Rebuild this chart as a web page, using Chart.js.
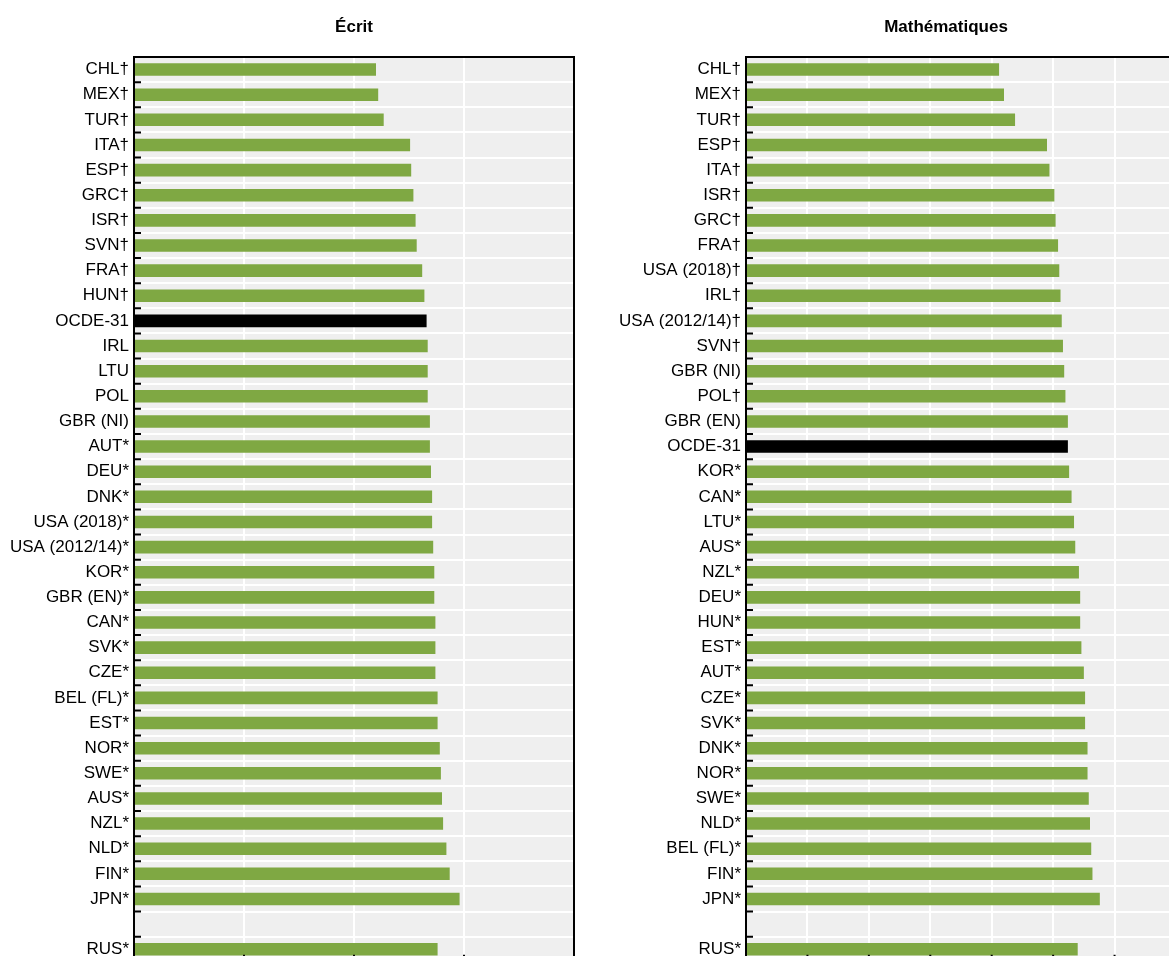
<!DOCTYPE html>
<html>
<head>
<meta charset="utf-8">
<script src="https://cdn.jsdelivr.net/npm/chart.js@4.4.1/dist/chart.umd.min.js"></script>
<style>
  html, body { margin: 0; padding: 0; background: #fff; overflow: hidden; width: 1169px; height: 956px; }
  .panel { position: absolute; top: 0; }
  #ecritWrap { left: 0; width: 580px; height: 977px; }
  #mathWrap { left: 590px; width: 592px; height: 977px; }
</style>
</head>
<body>
<div id="ecritWrap" class="panel"><canvas id="ecritChart"></canvas></div>
<div id="mathWrap" class="panel"><canvas id="mathChart"></canvas></div>
<script>
// Écrit (literacy) scores, blank row before RUS
var ecritLabels = ['CHL†', 'MEX†', 'TUR†', 'ITA†', 'ESP†', 'GRC†', 'ISR†', 'SVN†', 'FRA†', 'HUN†',
    'OCDE-31', 'IRL', 'LTU', 'POL', 'GBR (NI)', 'AUT*', 'DEU*', 'DNK*', 'USA (2018)*', 'USA (2012/14)*',
    'KOR*', 'GBR (EN)*', 'CAN*', 'SVK*', 'CZE*', 'BEL (FL)*', 'EST*', 'NOR*', 'SWE*', 'AUS*',
    'NZL*', 'NLD*', 'FIN*', 'JPN*', '', 'RUS*'];
var ecritValues = [220, 222, 227, 251, 252, 254, 256, 257, 262, 264,
    266, 267, 267, 267, 269, 269, 270, 271, 271, 272,
    273, 273, 274, 274, 274, 276, 276, 278, 279, 280,
    281, 284, 287, 296, null, 276];

// Mathématiques (numeracy) scores
var mathLabels = ['CHL†', 'MEX†', 'TUR†', 'ESP†', 'ITA†', 'ISR†', 'GRC†', 'FRA†', 'USA (2018)†', 'IRL†',
    'USA (2012/14)†', 'SVN†', 'GBR (NI)', 'POL†', 'GBR (EN)', 'OCDE-31', 'KOR*', 'CAN*', 'LTU*', 'AUS*',
    'NZL*', 'DEU*', 'HUN*', 'EST*', 'AUT*', 'CZE*', 'SVK*', 'DNK*', 'NOR*', 'SWE*',
    'NLD*', 'BEL (FL)*', 'FIN*', 'JPN*', '', 'RUS*'];
var mathValues = [206, 210, 219, 245, 247, 251, 252, 254, 255, 256,
    257, 258, 259, 260, 262, 262, 263, 265, 267, 268,
    271, 272, 272, 273, 275, 276, 276, 278, 278, 279,
    280, 281, 282, 288, null, 270];

var GREEN = '#7fa843';
var FONT = '"Liberation Sans Narrow", "Arial Narrow", "Liberation Sans", sans-serif';

// grey plot background, frame, inward ticks and panel title
var panelPlugin = {
    id: 'panel',
    beforeDraw: function(chart) {
        var a = chart.chartArea, ctx = chart.ctx;
        ctx.save();
        ctx.fillStyle = '#efefef';
        ctx.fillRect(a.left, a.top, a.right - a.left, a.bottom - a.top);
        ctx.restore();
    },
    afterDraw: function(chart, args, opts) {
        var a = chart.chartArea, ctx = chart.ctx;
        var x = chart.scales.x, y = chart.scales.y;
        ctx.save();
        ctx.strokeStyle = '#000';
        ctx.lineWidth = 2;
        ctx.beginPath();
        ctx.moveTo(a.left, a.bottom);
        ctx.lineTo(a.left, a.top);
        ctx.lineTo(a.right, a.top);
        ctx.lineTo(a.right, a.bottom);
        // ticks between categories on the left axis
        for (var i = 1; i < y.ticks.length; i++) {
            var yy = (y.getPixelForTick(i - 1) + y.getPixelForTick(i)) / 2;
            ctx.moveTo(a.left, yy);
            ctx.lineTo(a.left + 7, yy);
        }
        // ticks along the bottom axis
        for (var j = 1; j < x.ticks.length; j++) {
            var xx = x.getPixelForTick(j);
            ctx.moveTo(xx, a.bottom);
            ctx.lineTo(xx, a.bottom - 7);
        }
        ctx.stroke();
        ctx.fillStyle = '#000';
        ctx.font = 'bold 17px ' + FONT;
        ctx.textAlign = 'center';
        ctx.textBaseline = 'middle';
        ctx.fillText(opts.text, a.left + opts.dx + (a.right - a.left) / 2, 27);
        ctx.restore();
    }
};

function makePanel(id, labels, values, max, step, yWidth, title, dx) {
    var colors = labels.map(function(l) { return l === 'OCDE-31' ? '#000000' : GREEN; });
    return new Chart(document.getElementById(id).getContext('2d'), {
        type: 'bar',
        data: {
            labels: labels,
            datasets: [{
                data: values,
                backgroundColor: colors,
                borderWidth: 0,
                barPercentage: 0.5,
                categoryPercentage: 1
            }]
        },
        options: {
            indexAxis: 'y',
            responsive: true,
            maintainAspectRatio: false,
            animation: false,
            layout: { padding: { top: 57, right: 6, bottom: 2, left: 0 } },
            plugins: {
                legend: { display: false },
                tooltip: { enabled: false },
                panel: { text: title, dx: dx }
            },
            scales: {
                x: {
                    min: 0,
                    max: max,
                    ticks: { display: false, stepSize: step },
                    grid: { color: '#ffffff', lineWidth: 2, drawTicks: false },
                    border: { display: false }
                },
                y: {
                    afterFit: function(s) { s.width = yWidth; },
                    ticks: { color: '#000', padding: 5, autoSkip: false, font: { family: FONT, size: 17 } },
                    grid: { color: '#ffffff', lineWidth: 2, drawTicks: false, offset: true },
                    border: { display: false }
                }
            }
        },
        plugins: [panelPlugin]
    });
}

makePanel('ecritChart', ecritLabels, ecritValues, 400, 100, 134, 'Écrit', 0);
makePanel('mathChart', mathLabels, mathValues, 350, 50, 156, 'Mathématiques', -15);
</script>
</body>
</html>
